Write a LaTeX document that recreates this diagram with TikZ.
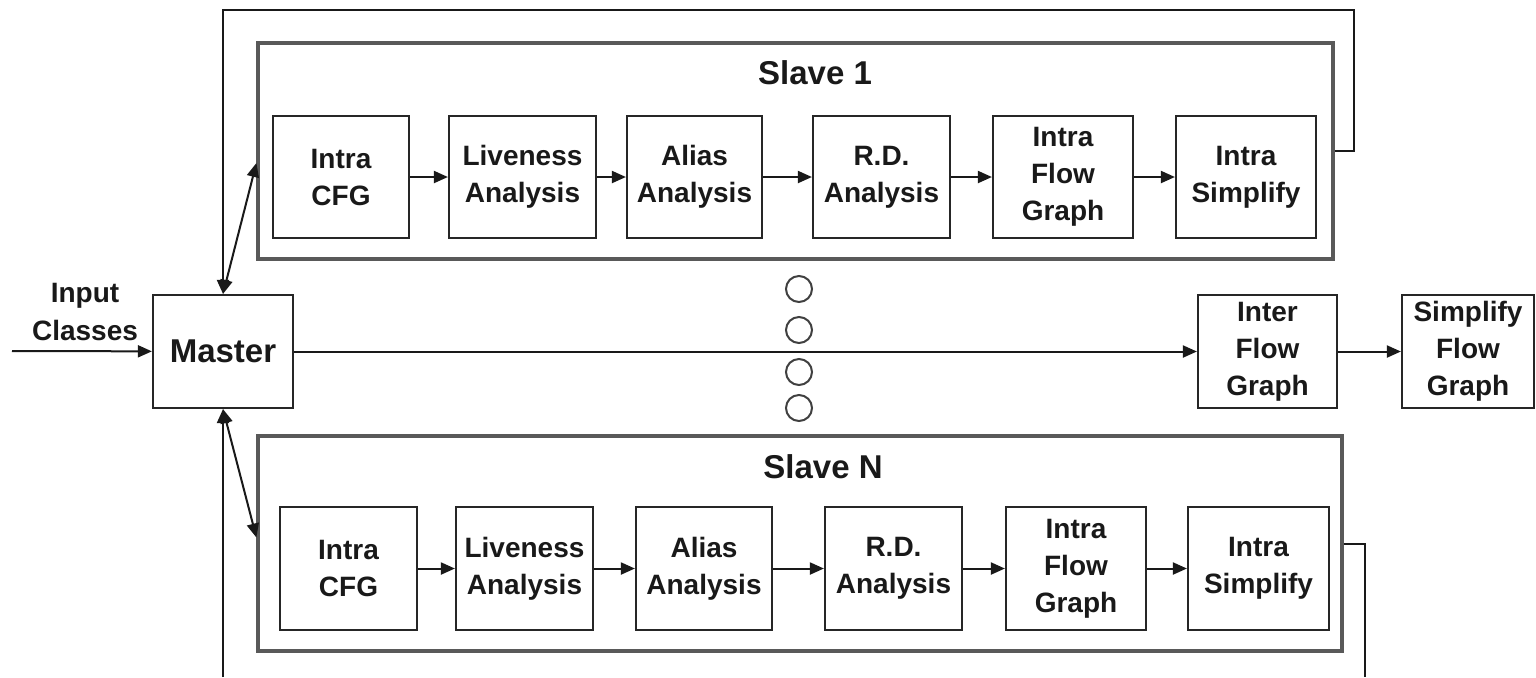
\documentclass[tikz,border=0pt]{standalone}
\usepackage{fontspec}
\setmainfont{Liberation Sans}
\usetikzlibrary{arrows.meta}

% place a box by its corners (x1,y1) (x2,y2), units of 0.5pt, y downwards
\newcommand\boxat[7][blk]{%
  \pgfmathsetmacro\bxw{(#5-#3)*0.5}%
  \pgfmathsetmacro\bxh{(#6-#4)*0.5}%
  \node[#1, minimum width=\bxw pt, minimum height=\bxh pt] (#2) at ({(#3+#5)/2},{(#4+#6)/2}) {#7};}

\begin{document}
\begin{tikzpicture}[x=0.5pt,y=-0.5pt,
  blk/.style={draw=black!85, line width=1.1pt, align=center, inner sep=0pt,
    font=\bfseries\fontsize{14}{18.5}\selectfont, text=black!90},
  bigblk/.style={blk, font=\bfseries\fontsize{16.5}{20}\selectfont},
  grp/.style={draw=black!65, line width=1.6pt, inner sep=0pt},
  title/.style={font=\bfseries\fontsize{16.5}{20}\selectfont, text=black!90},
  lbl/.style={align=center, font=\bfseries\fontsize{14}{19}\selectfont, text=black!90},
  conn/.style={line width=1pt, draw=black!90},
  tip/.tip={Triangle[length=7pt,width=6pt]},
  arr/.style={conn, -tip},
  darr/.style={conn, tip-tip},
  dot/.style={draw=black!75, line width=1pt, circle, minimum size=13pt, inner sep=0pt}
]
\useasboundingbox (0,0) rectangle (1536,677);

% slave groups
\boxat[grp]{s1}{258}{43}{1333}{259}{}
\boxat[grp]{sN}{258}{436}{1342}{651}{}
\node[title] (t1) at (815,73) {Slave 1};
\node[title] (tN) at (823,467) {Slave N};

% slave 1 pipeline
\boxat{a1}{273}{116}{409}{238}{Intra\\CFG}
\boxat{b1}{449}{116}{596}{238}{Liveness\\Analysis}
\boxat{c1}{627}{116}{762}{238}{Alias\\Analysis}
\boxat{d1}{813}{116}{950}{238}{R.D.\\Analysis}
\boxat{e1}{993}{116}{1133}{238}{Intra\\Flow\\Graph}
\boxat{f1}{1176}{116}{1316}{238}{Intra\\Simplify}

% slave N pipeline
\boxat{aN}{280}{507}{417}{630}{Intra\\CFG}
\boxat{bN}{456}{507}{593}{630}{Liveness\\Analysis}
\boxat{cN}{636}{507}{772}{630}{Alias\\Analysis}
\boxat{dN}{825}{507}{962}{630}{R.D.\\Analysis}
\boxat{eN}{1006}{507}{1146}{630}{Intra\\Flow\\Graph}
\boxat{fN}{1188}{507}{1329}{630}{Intra\\Simplify}

% master and inter-procedural stages
\boxat[bigblk]{master}{153}{295}{293}{408}{Master}
\boxat{inter}{1198}{295}{1337}{408}{Inter\\Flow\\Graph}
\boxat{simp}{1402}{295}{1534}{408}{Simplify\\Flow\\Graph}

\node[lbl] (inlbl) at (85,312) {Input\\Classes};
\coordinate (inL) at (12,351);

% ellipsis between slaves
\node[dot] (o1) at (799,289) {};
\node[dot] (o2) at (799,330) {};
\node[dot] (o3) at (799,372) {};
\node[dot] (o4) at (799,408) {};

% pipeline arrows
\foreach \r in {1,N}{
  \draw[arr] (a\r) -- (b\r);
  \draw[arr] (b\r) -- (c\r);
  \draw[arr] (c\r) -- (d\r);
  \draw[arr] (d\r) -- (e\r);
  \draw[arr] (e\r) -- (f\r);
}

% main flow
\draw[arr] (inL) -- (master);
\draw[arr] (master) -- (inter);
\draw[arr] (inter) -- (simp);

% master <-> slaves
\draw[darr] (master.north) -- ([yshift=-6pt]s1.west);
\draw[darr] (master.south) -- ([yshift=3pt]sN.west);

% feedback lines from slaves
\coordinate (fbR) at (1354,10);
\draw[arr] (s1.east) -| (fbR) -| (master.north);
\coordinate (bR) at (1365,677);
\coordinate (bL) at (223,677);
\draw[conn] (sN.east) -| (bR);
\draw[arr] (bL) -- (master.south);
\end{tikzpicture}
\end{document}
